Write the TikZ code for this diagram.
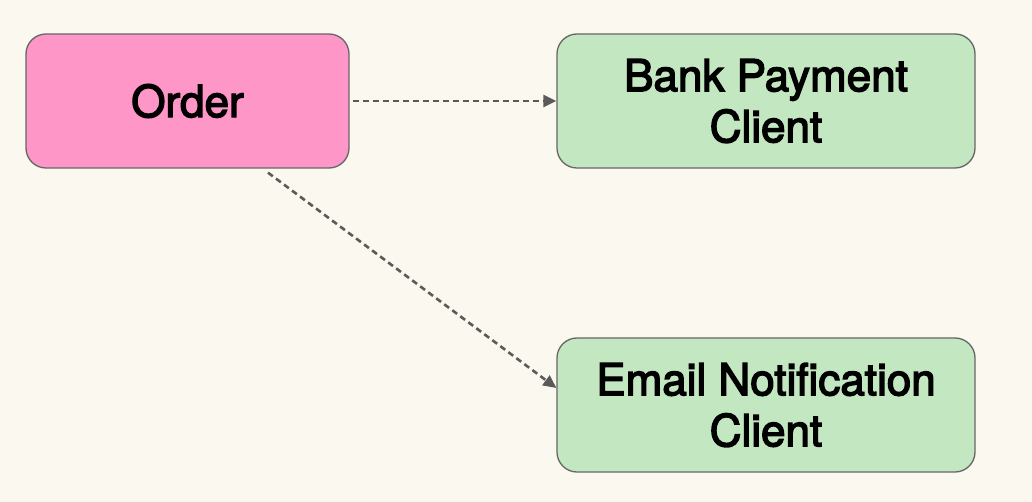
\documentclass[tikz,border=0pt]{standalone}
\usepackage{fontspec}
\setmainfont{TeX Gyre Heros}
\newfontfamily\medfont{TeX Gyre Heros}[FakeBold=3.2]
\usetikzlibrary{arrows.meta}
\definecolor{bg}{HTML}{FBF8EF}
\definecolor{pinkfill}{HTML}{FF96C8}
\definecolor{greenfill}{HTML}{C3E7C0}
\definecolor{edge}{HTML}{666666}
\definecolor{arrowc}{HTML}{5A5A5A}
\tikzset{
  box/.style={draw=edge, line width=1.3pt, rounded corners=20pt, minimum height=134pt, align=center, font=\medfont\fontsize{44}{51}\selectfont, text=black, inner sep=0pt},
  link/.style={draw=arrowc, line width=2.6pt, dash pattern=on 6pt off 4pt, -{Triangle[length=13pt,width=12pt]}}
}
\begin{document}
\begin{tikzpicture}[x=1pt,y=-1pt]
\fill[bg] (0,0) rectangle (1032,502);
\useasboundingbox (0,0) rectangle (1032,502);
\node[box, fill=pinkfill, minimum width=323pt] (order) at (187.5,101) {Order};
\node[box, fill=greenfill, minimum width=418pt] (bank) at (766,101) {Bank Payment\\Client};
\node[box, fill=greenfill, minimum width=418pt] (email) at (766,405) {Email Notification\\Client};
\draw[link] ([xshift=3pt]order.east) -- (bank.west);
\draw[link] ([xshift=268pt-187.5pt, yshift=-4pt]order.south) -- (email.west |- 0,388);
\end{tikzpicture}
\end{document}
